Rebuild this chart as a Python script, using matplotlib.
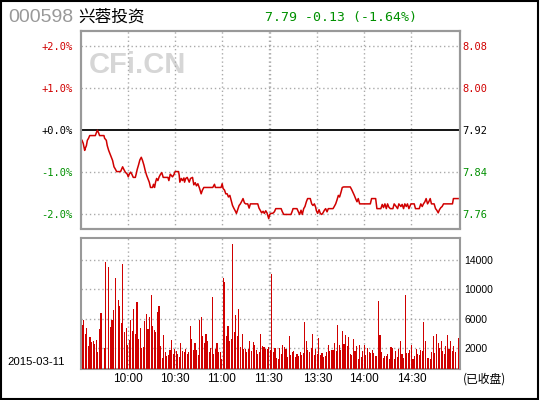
import matplotlib
matplotlib.use("Agg")
import matplotlib.pyplot as plt
from matplotlib.patches import Rectangle
import numpy as np

# ---- data ----
prev_close = 7.92
code = "000598"
name = "兴蓉投资"
quote = "7.79 -0.13 (-1.64%)"
date_label = "2015-03-11"
status = "(已收盘)"

# minute index (0 = 9:30, 120 = 11:30, 121 = 13:00, 241 = 15:00)
price_t = [0.9, 1.7, 2.6, 3.0, 3.7, 4.3, 5.1, 5.8, 9.4, 10.0, 10.7, 11.5, 12.1, 14.9, 15.3,
           16.4, 17.0, 17.9, 18.7, 19.6, 20.4, 21.3, 22.1, 23.0, 25.5, 26.2, 26.8, 27.6, 28.5,
           29.8, 30.4, 31.0, 31.9, 32.7, 33.6, 34.9, 35.5, 36.1, 37.0, 37.8, 38.7, 39.5, 40.4,
           41.2, 42.1, 42.9, 43.8, 44.6, 45.9, 46.5, 47.2, 47.8, 48.5, 49.3, 50.1, 51.0, 51.8,
           52.7, 55.7, 56.3, 57.2, 57.8, 58.6, 59.5, 60.3, 62.5, 62.9, 63.3, 64.2, 65.0, 65.9,
           66.3, 67.1, 68.0, 69.3, 70.1, 71.4, 72.2, 73.1, 73.9, 74.8, 75.8, 76.9, 77.7, 78.6,
           84.3, 85.4, 86.0, 89.6, 90.3, 90.9, 91.8, 92.6, 93.5, 94.3, 95.2, 96.0, 96.9, 97.7,
           98.6, 99.4, 100.3, 101.1, 101.9, 102.8, 103.6, 104.5, 105.3, 106.6, 107.5, 108.3,
           113.0, 113.8, 114.7, 115.5, 116.4, 117.2, 118.1, 118.9,
           120.0, 120.6, 121.5, 122.5, 123.6, 124.5, 127.9, 128.7, 129.6, 134.2, 135.1, 135.5,
           138.0, 138.9, 139.7, 140.6, 141.4, 142.3, 143.1, 144.0, 144.8, 146.5, 147.4, 148.2,
           149.1, 149.9, 150.4, 151.2, 152.1, 152.9, 153.8, 154.6, 155.5, 156.3, 157.2, 158.0,
           161.0, 161.8, 162.7, 163.5, 164.4, 165.2, 166.1, 166.9, 167.8, 172.0, 172.9, 173.7,
           174.6, 175.4, 176.3, 177.1, 178.0, 184.8, 185.6, 188.2, 189.0, 191.5, 192.4, 193.2,
           194.1, 195.0, 195.8, 196.6, 197.5, 199.2, 200.0, 201.3, 202.2, 203.0, 204.3, 205.1,
           206.0, 206.8, 207.7, 208.5, 209.4, 210.7, 212.8, 213.6, 216.0, 217.0, 217.9, 218.7,
           219.6, 220.4, 221.3, 222.1, 223.0, 223.8, 225.5, 226.4, 227.2, 228.1, 228.9, 229.8,
           230.6, 231.5, 237.2, 237.8, 240.8]
price = [7.900, 7.894, 7.881, 7.885, 7.890, 7.900, 7.904, 7.909, 7.909, 7.914, 7.919, 7.914,
         7.909, 7.909, 7.904, 7.900, 7.890, 7.881, 7.875, 7.868, 7.862, 7.850, 7.846, 7.841,
         7.841, 7.846, 7.850, 7.845, 7.840, 7.836, 7.831, 7.836, 7.840, 7.836, 7.830, 7.830,
         7.837, 7.845, 7.854, 7.863, 7.868, 7.862, 7.853, 7.843, 7.834, 7.828, 7.821, 7.811,
         7.811, 7.817, 7.811, 7.821, 7.828, 7.824, 7.831, 7.836, 7.839, 7.830, 7.830, 7.824,
         7.836, 7.834, 7.831, 7.835, 7.841, 7.841, 7.834, 7.821, 7.828, 7.824, 7.829, 7.821,
         7.828, 7.830, 7.821, 7.828, 7.830, 7.816, 7.820, 7.814, 7.818, 7.810, 7.799, 7.806,
         7.811, 7.811, 7.817, 7.811, 7.811, 7.818, 7.809, 7.806, 7.799, 7.799, 7.793, 7.796,
         7.787, 7.777, 7.772, 7.767, 7.762, 7.770, 7.777, 7.780, 7.785, 7.790, 7.782, 7.780,
         7.780, 7.772, 7.780, 7.780, 7.772, 7.767, 7.763, 7.766, 7.762, 7.767, 7.763,
         7.752, 7.760, 7.762, 7.762, 7.765, 7.771, 7.771, 7.765, 7.760, 7.760, 7.767, 7.771,
         7.771, 7.765, 7.760, 7.768, 7.760, 7.771, 7.775, 7.784, 7.790, 7.790, 7.780, 7.777,
         7.780, 7.774, 7.767, 7.762, 7.769, 7.762, 7.760, 7.763, 7.768, 7.771, 7.765, 7.771,
         7.771, 7.775, 7.780, 7.787, 7.796, 7.793, 7.802, 7.811, 7.812, 7.812, 7.807, 7.802,
         7.796, 7.790, 7.784, 7.790, 7.780, 7.780, 7.790, 7.790, 7.771, 7.771, 7.779, 7.773,
         7.780, 7.771, 7.780, 7.774, 7.771, 7.771, 7.780, 7.775, 7.771, 7.780, 7.775, 7.779,
         7.771, 7.780, 7.775, 7.780, 7.771, 7.780, 7.780, 7.771, 7.771, 7.780, 7.775, 7.780,
         7.784, 7.790, 7.780, 7.784, 7.790, 7.780, 7.780, 7.771, 7.768, 7.763, 7.769, 7.773,
         7.775, 7.780, 7.780, 7.790, 7.790]

vol_t = (list(range(1, 14)) + [15, 16] + list(range(18, 23)) + list(range(24, 122))
         + list(range(122, 240)) + [241])
volume = [5070, 5790, 3850, 4710, 2270, 3490, 2810, 2950, 2540, 3080, 1460, 4570, 6740,
          2000, 13640,
          12960, 4840, 5790, 7140, 11470,
          8490, 7680, 5380, 13370, 4160, 4710, 2410, 3080, 5790, 4300, 7280, 3890, 8220, 3220,
          4710, 2000, 2140, 5650, 6600, 4570, 6190, 9170, 4980, 4440, 4160, 6870, 7680, 2270,
          650, 3760, 1460, 920, 1050, 1730, 3080, 1190, 1860, 1590, 1190, 780, 2680, 1590,
          1460, 1860, 1190, 1460, 4980, 3220, 1730, 2680, 1730, 1050, 5790, 6190, 3620, 2680,
          3890, 2950, 1460, 2000, 8900, 1190, 1860, 2680, 1460, 1460, 510, 11470, 10930, 3620,
          4980, 2950, 3220, 16070, 4160, 6460, 3620, 7280, 2140, 3890, 1860, 1860, 1460, 1860,
          2950, 1590, 2810, 2410, 1730, 1190, 1460, 3890, 2270, 2140, 1860, 1860, 2140, 1730,
          12010, 1460, 2000, 650, 510, 2000, 1190, 2410, 2140, 1860, 780, 3620, 1050, 1460,
          1590, 780, 1190, 920, 1460, 1050, 1320, 5520, 2950, 1730, 1460, 2000, 3890, 1050,
          1860, 1190, 3350, 1050, 1320, 780, 920, 1460, 2410, 1590, 1730, 1730, 2680, 1590,
          5110, 2410, 1730, 4300, 2540, 3760, 2270, 3490, 1190, 1050, 3220, 1590, 2270, 510,
          2410, 780, 1590, 2410, 1050, 2000, 1460, 1320, 1730, 1320, 920, 920, 8360, 3760,
          1460, 650, 920, 920, 1190, 510, 2140, 2000, 510, 1590, 780, 1860, 2950, 1190, 650,
          9170, 1320, 1320, 1730, 2410, 510, 920, 1860, 1190, 1050, 1730, 1590, 5520, 2950,
          650, 650, 510, 1460, 3620, 1320, 3890, 2680, 2000, 2950, 1590, 1190, 2270, 3760,
          1860, 2950, 1590, 2270, 1460, 3350]

time_ticks = [30, 60, 90, 120, 151, 181, 211]
time_labels = ["10:00", "10:30", "11:00", "11:30", "13:30", "14:00", "14:30"]
grid_minutes = [30, 60, 90, 120, 121, 151, 181, 211]
pct_levels = [2, 1, 0, -1, -2]
vol_ticks = [2000, 6000, 10000, 14000]

RED = "#d00000"
GREEN = "#009000"
GRID = "#aaaaaa"
FRAME = "#999999"
W, H = 540, 400

fig = plt.figure(figsize=(5.4, 4), dpi=100)


def box(left, top, right, bottom):
    return [left / W, 1 - bottom / H, (right - left) / W, (bottom - top) / H]


ax1 = fig.add_axes(box(80.6, 31, 460, 228.5))
ax2 = fig.add_axes(box(80.6, 238.3, 460, 369.3))

# ---- price panel ----
span = 0.02355
ax1.set_xlim(0, 242)
ax1.set_ylim(prev_close * (1 - span), prev_close * (1 + span))
levels = [prev_close * (1 + p / 100) for p in pct_levels]
for lv, p in zip(levels, pct_levels):
    if p == 0:
        ax1.axhline(lv, color="black", lw=1.3, zorder=3)
    else:
        ax1.axhline(lv, color=GRID, lw=1.0, ls=(0, (1, 2)), zorder=1)
for m in grid_minutes:
    ax1.axvline(m, color=GRID, lw=1.0, ls=(0, (1, 2)), zorder=1)
    ax2.axvline(m, color=GRID, lw=1.0, ls=(0, (1, 2)), zorder=1)

ax1.plot(price_t, price, color=RED, lw=1.1, zorder=4)
ax1.text(0.022, 0.828, "CFi.CN", transform=ax1.transAxes, fontsize=21,
         fontweight="bold", family="Liberation Sans", color="#d6d6d6",
         va="center", ha="left", zorder=0.5)


def pct_color(p):
    return RED if p > 0 else (GREEN if p < 0 else "black")


ax1.set_yticks(levels)
ax1.set_yticklabels([f"{p:+.1f}%" for p in pct_levels], family="DejaVu Sans Mono", fontsize=7.5)
for lab, p in zip(ax1.get_yticklabels(), pct_levels):
    lab.set_color(pct_color(p))
ax1.tick_params(axis="y", length=0, pad=6)
ax1.set_xticks([])

ax1r = ax1.twinx()
ax1r.set_ylim(ax1.get_ylim())
ax1r.set_yticks(levels)
ax1r.set_yticklabels([f"{lv:.2f}" for lv in levels], family="DejaVu Sans Mono", fontsize=7.5)
for lab, p in zip(ax1r.get_yticklabels(), pct_levels):
    lab.set_color(pct_color(p))
ax1r.tick_params(axis="y", length=0, pad=1.5)

for a in (ax1, ax1r, ax2):
    for s in a.spines.values():
        s.set_color(FRAME)
        s.set_linewidth(1.5)

# ---- volume panel ----
vbase, vtop = -890, 16880
ax2.set_xlim(0, 242)
ax2.set_ylim(vbase, vtop)
for v in vol_ticks:
    ax2.axhline(v, color=GRID, lw=1.0, ls=(0, (1, 2)), zorder=1)
ax2.bar(vol_t, np.array(volume) - vbase, bottom=vbase, width=0.7, color=RED,
        linewidth=0, antialiased=False, zorder=3)
ax2.yaxis.tick_right()
ax2.set_yticks(vol_ticks)
ax2.set_yticklabels([str(v) for v in vol_ticks], family="Liberation Sans", fontsize=7.5)
ax2.tick_params(axis="y", length=0, pad=3)
ax2.set_xticks(time_ticks)
ax2.set_xticklabels(time_labels, family="Liberation Sans", fontsize=8.5)
ax2.tick_params(axis="x", length=0, pad=2.5)

# ---- header / footer text ----
fig.text(8.6 / W, 1 - 17 / H, code, fontsize=14, family="Liberation Sans",
         color="#999999", va="center", ha="left")
fig.text(78 / W, 1 - 17 / H, name, fontsize=12, family=["Noto Sans CJK SC", "DejaVu Sans"],
         color="black", va="center", ha="left")
fig.text(265 / W, 1 - 17.5 / H, quote, fontsize=9.5, family="DejaVu Sans Mono",
         color=GREEN, va="center", ha="left")
fig.text(7 / W, 1 - 362 / H, date_label, fontsize=8.2, family="Liberation Sans",
         va="center", ha="left")
fig.text(463 / W, 1 - 379 / H, status, fontsize=8.5,
         family=["Noto Sans CJK SC", "DejaVu Sans"], va="center", ha="left")

fig.add_artist(Rectangle((0.001, 0.003), 0.996, 0.995, transform=fig.transFigure,
                         fill=False, edgecolor="black", lw=1.5))

fig.savefig("out.png", dpi=100)
